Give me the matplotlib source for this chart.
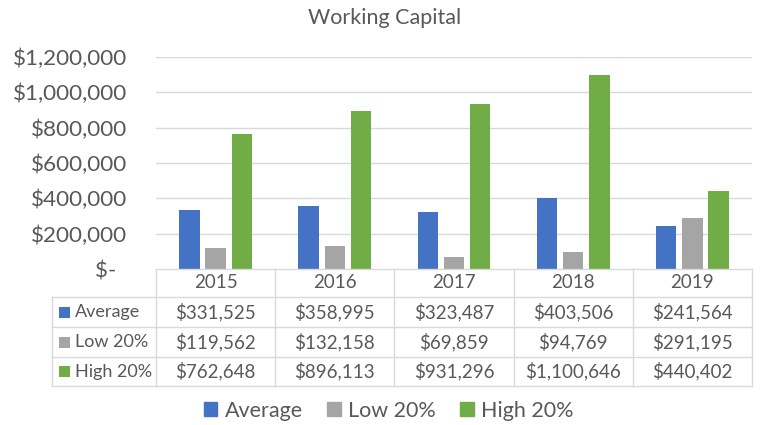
import matplotlib.pyplot as plt
import matplotlib.transforms as mtransforms
from matplotlib.lines import Line2D
from matplotlib.patches import Rectangle
import numpy as np

years = ["2015", "2016", "2017", "2018", "2019"]
series_names = ["Average", "Low 20%", "High 20%"]
average = [331525, 358995, 323487, 403506, 241564]
low20 = [119562, 132158, 69859, 94769, 291195]
high20 = [762648, 896113, 931296, 1100646, 440402]
yticks = [0, 200000, 400000, 600000, 800000, 1000000, 1200000]

colors = ["#4472C4", "#A5A5A5", "#70AD47"]
text_col = "#595959"
grid_col = "#D9D9D9"

plt.rcParams['font.family'] = ['Lato', 'DejaVu Sans']

W, H = 765, 425
fig = plt.figure(figsize=(W / 100, H / 100), dpi=100)

# plot area in pixel terms (from the reference)
left, right, top, bottom = 156, 752, 57, 269
ax = fig.add_axes([left / W, 1 - bottom / H, (right - left) / W, (bottom - top) / H])

x = np.arange(len(years))
bw = 0.17
off = 0.22
all_series = [average, low20, high20]
for i, (vals, c) in enumerate(zip(all_series, colors)):
    ax.bar(x + (i - 1) * off, vals, width=bw, color=c, zorder=3)

ax.set_xlim(-0.5, len(years) - 0.5)
ax.set_ylim(0, 1200000)
ax.set_yticks(yticks)
ax.set_yticklabels(["$-  "] + [f"${v:,.0f}" for v in yticks[1:]])
ax.tick_params(axis='y', length=0, pad=20.5, labelsize=16.2, labelcolor=text_col)
ax.set_xticks([])
for v in yticks[1:]:
    ax.axhline(v, color=grid_col, lw=1, zorder=1)
for s in ax.spines.values():
    s.set_visible(False)

fig.text(0.503, 1 - 18 / H, "Working Capital", ha='center', va='center',
         fontsize=15.5, color=text_col)

# data table below the plot: x in data coords, y in figure fraction
tr = mtransforms.blended_transform_factory(ax.transData, fig.transFigure)
trf = fig.transFigure
row_edges = [269, 297, 327, 357, 386]
ry = [1 - r / H for r in row_edges]
label_left = 52 / W

# horizontal lines
fig.add_artist(Line2D([-0.5, len(years) - 0.5], [ry[0], ry[0]], transform=tr, color=grid_col, lw=1))
for yy in ry[1:]:
    fig.add_artist(Line2D([label_left, right / W], [yy, yy], transform=trf, color=grid_col, lw=1))
# vertical lines
for k in range(len(years) + 1):
    fig.add_artist(Line2D([k - 0.5, k - 0.5], [ry[0], ry[-1]], transform=tr, color=grid_col, lw=1))
fig.add_artist(Line2D([label_left, label_left], [ry[1], ry[-1]], transform=trf, color=grid_col, lw=1))

# header
for k, yr in enumerate(years):
    fig.text(k, (ry[0] + ry[1]) / 2, yr, transform=tr, ha='center', va='center',
             fontsize=13.5, color=text_col)

for j, (name, vals, c) in enumerate(zip(series_names, all_series, colors)):
    yc = (ry[j + 1] + ry[j + 2]) / 2
    fig.add_artist(Rectangle((59 / W, yc - 5.5 / H), 11 / W, 11 / H, transform=trf,
                             color=c, lw=0))
    fig.text(75 / W, yc, name, transform=trf, ha='left', va='center',
             fontsize=13, color=text_col)
    for k, v in enumerate(vals):
        fig.text(k, yc, f"${v:,.0f}", transform=tr, ha='center', va='center',
                 fontsize=13.5, color=text_col)

# legend
handles = [Rectangle((0, 0), 1, 1, color=c) for c in colors]
fig.legend(handles, series_names, loc='center', bbox_to_anchor=(0.508, 1 - 411 / H),
           ncol=3, frameon=False, fontsize=15.5, handlelength=0.62, handleheight=0.62,
           handletextpad=0.33, columnspacing=1.15, labelcolor=text_col)

fig.savefig("out.png", dpi=100)
